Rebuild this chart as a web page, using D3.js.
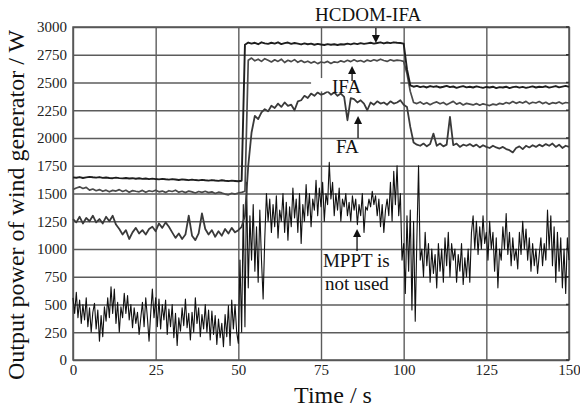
<!DOCTYPE html>
<html>
<head>
<meta charset="utf-8">
<script src="https://cdn.jsdelivr.net/npm/d3@7"></script>
<style>
  body { margin: 0; background: #fff; }
  svg { display: block; }
  text { font-family: "Liberation Serif", "Times New Roman", serif; }
</style>
</head>
<body>
<svg id="chart" width="580" height="412"></svg>
<script>
// tick values
const xTicks = [0, 25, 50, 75, 100, 125, 150]
const yTicks = [0, 250, 500, 750, 1000, 1250, 1500, 1750, 2000, 2250, 2500, 2750, 3000]

// sample spacing (s) of the series below
const curveStep = 1
const mpptStep = 0.5

// HCDOM-IFA, one value per second, 0..150 s
const hcdomIfa = [
  1645,1642,1648,1640,1645,1650,1646,1643,1648,1641,
  1644,1640,1638,1643,1639,1636,1640,1635,1638,1633,
  1637,1632,1635,1630,1634,1630,1627,1632,1628,1625,
  1630,1626,1622,1627,1624,1620,1625,1621,1618,1623,
  1619,1616,1621,1617,1614,1619,1615,1612,1616,1613,
  1610,1615,2840,2860,2850,2858,2845,2862,2852,2848,
  2858,2850,2862,2846,2855,2860,2848,2856,2850,2843,
  2852,2845,2850,2840,2848,2842,2838,2846,2840,2845,
  2838,2845,2842,2850,2844,2852,2846,2855,2848,2853,
  2858,2850,2856,2862,2852,2860,2855,2862,2858,2856,
  2850,2620,2475,2462,2470,2458,2465,2455,2468,2460,
  2466,2455,2462,2470,2458,2464,2452,2460,2467,2456,
  2462,2455,2465,2458,2452,2460,2455,2462,2450,2458,
  2455,2462,2450,2458,2463,2454,2460,2452,2458,2465,
  2455,2462,2458,2466,2454,2460,2468,2456,2463,2470,
  2460
]

// IFA, one value per second
const ifa = [
  1535,1550,1560,1545,1555,1530,1540,1525,1535,1520,
  1530,1515,1528,1522,1535,1518,1530,1512,1526,1520,
  1515,1528,1512,1525,1518,1530,1515,1522,1510,1525,
  1518,1530,1512,1520,1508,1522,1515,1505,1518,1510,
  1520,1508,1515,1500,1512,1505,1495,1488,1502,1495,
  1505,1510,1520,2700,2720,2695,2710,2690,2715,2700,
  2685,2705,2690,2710,2680,2700,2688,2706,2682,2698,
  2680,2692,2675,2688,2670,2685,2678,2690,2672,2686,
  2680,2695,2685,2700,2688,2705,2690,2698,2685,2702,
  2692,2705,2695,2710,2698,2690,2705,2695,2702,2698,
  2690,2580,2420,2320,2310,2325,2305,2318,2300,2315,
  2325,2308,2320,2300,2315,2330,2305,2318,2298,2312,
  2305,2298,2310,2295,2308,2300,2292,2305,2298,2312,
  2305,2320,2310,2328,2312,2325,2315,2330,2308,2322,
  2315,2328,2310,2322,2305,2318,2312,2325,2308,2320,
  2315
]

// FA, one value per second
const fa = [
  1270,1240,1290,1230,1280,1250,1300,1240,1270,1230,
  1290,1250,1300,1220,1180,1130,1170,1090,1150,1190,
  1140,1170,1130,1180,1200,1160,1230,1190,1240,1200,
  1150,1100,1140,1090,1130,1300,1120,1080,1140,1320,
  1180,1130,1170,1110,1160,1120,1180,1140,1190,1150,
  1170,1200,1300,1750,2050,2200,2170,2230,2260,2240,
  2290,2270,2310,2280,2320,2290,2300,2250,2330,2340,
  2380,2360,2400,2380,2410,2390,2400,2420,2390,2410,
  2380,2400,2370,2160,2360,2350,2320,2340,2310,2250,
  2320,2300,2330,2310,2320,2300,2330,2310,2320,2340,
  2300,2280,2100,1960,1940,1930,1950,1925,1945,2040,
  1930,1950,1925,1940,2190,1935,1950,1920,1940,1930,
  1945,1925,1940,1915,1935,1920,1910,1930,1915,1905,
  1920,1900,1890,1870,1910,1925,1900,1930,1915,1935,
  1920,1940,1925,1945,1930,1950,1920,1940,1910,1930,
  1920
]

// MPPT not used, two values per second
const mppt = [
  560,420,610,380,540,330,500,360,560,300,
  470,250,430,510,280,450,170,400,210,480,
  350,560,380,660,420,640,330,520,250,480,
  380,600,420,580,360,500,290,470,330,430,
  230,380,520,300,560,380,170,420,640,380,
  560,300,550,280,500,360,540,230,460,300,
  500,200,420,130,380,260,470,310,550,290,
  420,180,430,250,560,330,470,210,410,280,
  500,250,450,180,440,230,400,140,370,200,
  330,120,410,210,490,130,540,280,500,250,
  150,900,250,1400,300,1600,650,1300,900,1400,
  800,1200,700,1350,900,550,1100,1500,1250,1450,
  1150,1400,1200,1480,1100,1350,1250,1500,1150,1420,
  1080,1380,1200,1550,1280,1450,1150,1500,1050,1400,
  1250,1580,1300,1500,1200,1450,1350,1620,1300,1550,
  1380,1600,1250,1500,1400,1780,1450,1600,1300,1500,
  1350,1550,1250,1450,1380,1500,1300,1420,1250,1480,
  1350,1450,1220,1400,1300,1500,1150,1380,1350,1450,
  1380,1520,1400,1480,1300,1450,1200,1400,1150,1350,
  1450,1300,1600,1250,1700,1400,1750,1300,1500,900,
  1050,600,1300,800,1350,450,1250,350,1100,1750,
  900,1000,750,1150,850,1050,700,1000,780,950,
  650,1050,800,1000,700,1100,850,1150,750,1050,
  900,1000,700,950,800,1050,680,920,750,1000,
  700,1150,1300,1000,1250,950,1200,1000,1300,1050,
  1150,900,1250,1000,1150,800,1100,650,1000,900,
  1200,1000,1320,950,1150,850,1100,900,1000,820,
  1150,950,1250,1000,1180,900,1100,800,1050,850,
  1000,780,950,1100,850,1050,900,1350,1000,1300,
  850,1200,700,1150,800,1100,650,1000,600,1100,
  900
]

// annotation texts and arrows, in data units (t, value)
const labels = [
  { text: "HCDOM-IFA", t: 73.2, v: 3054 },
  { text: "IFA", t: 78.3, v: 2405 },
  { text: "FA", t: 79.5, v: 1865 },
  { text: "MPPT is", t: 75.6, v: 838 },
  { text: "not used", t: 76.2, v: 631 }
]
const arrows = [
  { t: 91.6, from: 2991, to: 2856 },
  { t: 84.4, from: 2514, to: 2649 },
  { t: 86.2, from: 2000, to: 2198 },
  { t: 85.9, from: 982, to: 1180 }
]

const svg = d3.select("#chart")
const x = d3.scaleLinear().domain([0, 150]).range([73, 569])
const y = d3.scaleLinear().domain([0, 3000]).range([360, 27])
const plotW = 569 - 73
const plotH = 360 - 27

svg.append("rect").attr("width", 580).attr("height", 412).attr("fill", "#fff")

// grid + labels from axes
const gx = svg.append("g")
    .attr("transform", "translate(0,360)")
    .call(d3.axisBottom(x).tickValues(xTicks).tickFormat(d3.format("d")).tickSize(-plotH).tickPadding(6))
const gy = svg.append("g")
    .attr("transform", "translate(73,0)")
    .call(d3.axisLeft(y).tickValues(yTicks).tickFormat(d3.format("d")).tickSize(-plotW).tickPadding(6))

;[gx, gy].forEach(g => {
    g.attr("font-family", "Liberation Serif").attr("font-size", 15)
    g.select(".domain").remove()
    g.selectAll(".tick line").attr("stroke", "#5c5c5c").attr("stroke-width", 1.4)
    g.selectAll(".tick text").attr("fill", "#222")
})
gx.selectAll(".tick text").attr("dy", "0.6em")

// frame
svg.append("rect")
    .attr("x", 73).attr("y", 27).attr("width", plotW).attr("height", plotH)
    .attr("fill", "none").attr("stroke", "#555").attr("stroke-width", 1.5)

// small inner tick marks
svg.append("g").selectAll("line").data(yTicks).join("line")
    .attr("x1", 566).attr("x2", 569)
    .attr("y1", d => y(d)).attr("y2", d => y(d))
    .attr("stroke", "#333").attr("stroke-width", 1.5)

const series = [
  { values: mppt, step: mpptStep, color: "#111", width: 1.1 },
  { values: fa, step: curveStep, color: "#3a3a3a", width: 1.8 },
  { values: ifa, step: curveStep, color: "#4a4a4a", width: 1.7 },
  { values: hcdomIfa, step: curveStep, color: "#1e1e1e", width: 1.9 }
]

series.forEach(s => {
    const line = d3.line()
        .x((d, i) => x(i * s.step))
        .y(d => y(d))
    svg.append("path")
        .datum(s.values)
        .attr("d", line)
        .attr("fill", "none")
        .attr("stroke", s.color)
        .attr("stroke-width", s.width)
        .attr("stroke-linejoin", "round")
})

// white patch behind the IFA label
svg.append("rect")
    .attr("x", x(72)).attr("y", y(2540))
    .attr("width", x(99) - x(72)).attr("height", y(2420) - y(2540))
    .attr("fill", "#fff")

svg.append("g").selectAll("text").data(labels).join("text")
    .attr("x", d => x(d.t))
    .attr("y", d => y(d.v))
    .attr("fill", "#111")
    .style("font-size", "19px")
    .text(d => d.text)

const ag = svg.append("g")
arrows.forEach(a => {
    const dir = a.to > a.from ? -1 : 1 // screen direction of the tip
    const tipY = y(a.to)
    const ax = x(a.t)
    ag.append("line")
        .attr("x1", ax).attr("x2", ax)
        .attr("y1", y(a.from)).attr("y2", tipY - dir * 6)
        .attr("stroke", "#111").attr("stroke-width", 1.3)
    ag.append("path")
        .attr("d", `M${ax},${tipY} L${ax - 4},${tipY - dir * 8} L${ax + 4},${tipY - dir * 8} Z`)
        .attr("fill", "#111")
})

// axis titles
svg.append("text")
    .attr("x", 333).attr("y", 403)
    .attr("text-anchor", "middle")
    .attr("fill", "#111")
    .style("font-size", "24px")
    .text("Time / s")

svg.append("text")
    .attr("transform", "translate(24,205) rotate(-90)")
    .attr("text-anchor", "middle")
    .attr("fill", "#111")
    .style("font-size", "24px")
    .text("Output power of wind generator / W")
</script>
</body>
</html>
